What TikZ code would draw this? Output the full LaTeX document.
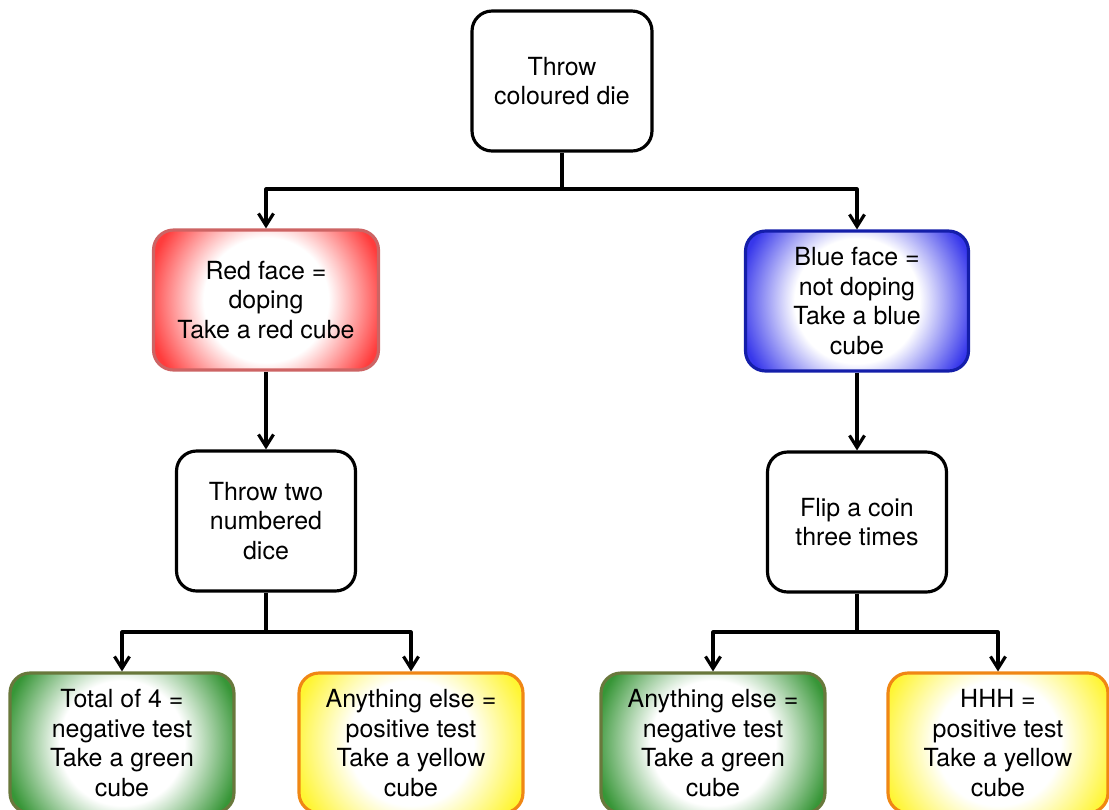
\documentclass[tikz,border=0pt]{standalone}
\usepackage{fontspec}
\setmainfont{TeX Gyre Heros}
\usetikzlibrary{arrows.meta}
\definecolor{redline}{RGB}{205,100,100}
\definecolor{redfill}{RGB}{255,60,60}
\definecolor{blueline}{RGB}{20,30,170}
\definecolor{bluefill}{RGB}{55,55,235}
\definecolor{greenline}{RGB}{105,120,60}
\definecolor{greenfill}{RGB}{55,150,55}
\definecolor{yellowline}{RGB}{240,135,20}
\definecolor{yellowfill}{RGB}{255,245,50}
\colorlet{glowcol}{red}
\pgfdeclareradialshading[glowcol]{glow}{\pgfpointorigin}{color(0bp)=(white); color(13bp)=(white); color(25bp)=(glowcol); color(50bp)=(glowcol)}
\begin{document}
\begin{tikzpicture}[x=0.02cm,y=-0.02cm,>={Straight Barb[length=2.4mm,width=3mm]},
    line width=1.8pt,line join=round,
    box/.style={draw,rounded corners=0.4cm,align=center,inner sep=0pt,
        minimum width=#1,minimum height=2.8cm,font=\fontsize{14.2}{16.8}\selectfont},
    box/.default=3.6cm,
    glow/.style 2 args={draw=#1,path picture={\colorlet{glowcol}{#2}
        \shade[shading=glow] ([shift={(-2.4cm,-2.4cm)}]path picture bounding box.center)
        rectangle ([shift={(2.4cm,2.4cm)}]path picture bounding box.center);}}]
    \useasboundingbox (0,0) rectangle (1109,809);
    \clip (0,0) rectangle (1109,809);
    % boxes
    \node[box] (throw) at (562,81) {Throw\\coloured die};
    \node[box=4.5cm,glow={redline}{redfill}] (red) at (266,300) {Red face =\\doping\\Take a red cube};
    \node[box=4.46cm,glow={blueline}{bluefill}] (blue) at (857,301) {Blue face =\\not doping\\Take a blue\\cube};
    \node[box=3.58cm] (dice) at (266,521) {Throw two\\numbered\\dice};
    \node[box=3.58cm] (coin) at (857,522) {Flip a coin\\three times};
    \node[box=4.48cm,glow={greenline}{greenfill}] (negA) at (122,743) {Total of 4 =\\negative test\\Take a green\\cube};
    \node[box=4.48cm,glow={yellowline}{yellowfill}] (posA) at (411,743) {Anything else =\\positive test\\Take a yellow\\cube};
    \node[box=4.48cm,glow={greenline}{greenfill}] (negB) at (713,743) {Anything else =\\negative test\\Take a green\\cube};
    \node[box=4.4cm,glow={yellowline}{yellowfill}] (posB) at (998,743) {HHH =\\positive test\\Take a yellow\\cube};
    % connectors
    \coordinate (forkT) at (562,189);
    \coordinate (forkA) at (266,632);
    \coordinate (forkB) at (857,632);
    \draw[->] (throw) -- (forkT) -| (red);
    \draw[->] (forkT) -| (blue);
    \draw[->] (red) -- (dice);
    \draw[->] (blue) -- (coin);
    \draw[->] (dice) -- (forkA) -| (negA);
    \draw[->] (forkA) -| (posA);
    \draw[->] (coin) -- (forkB) -| (negB);
    \draw[->] (forkB) -| (posB);
\end{tikzpicture}
\end{document}
